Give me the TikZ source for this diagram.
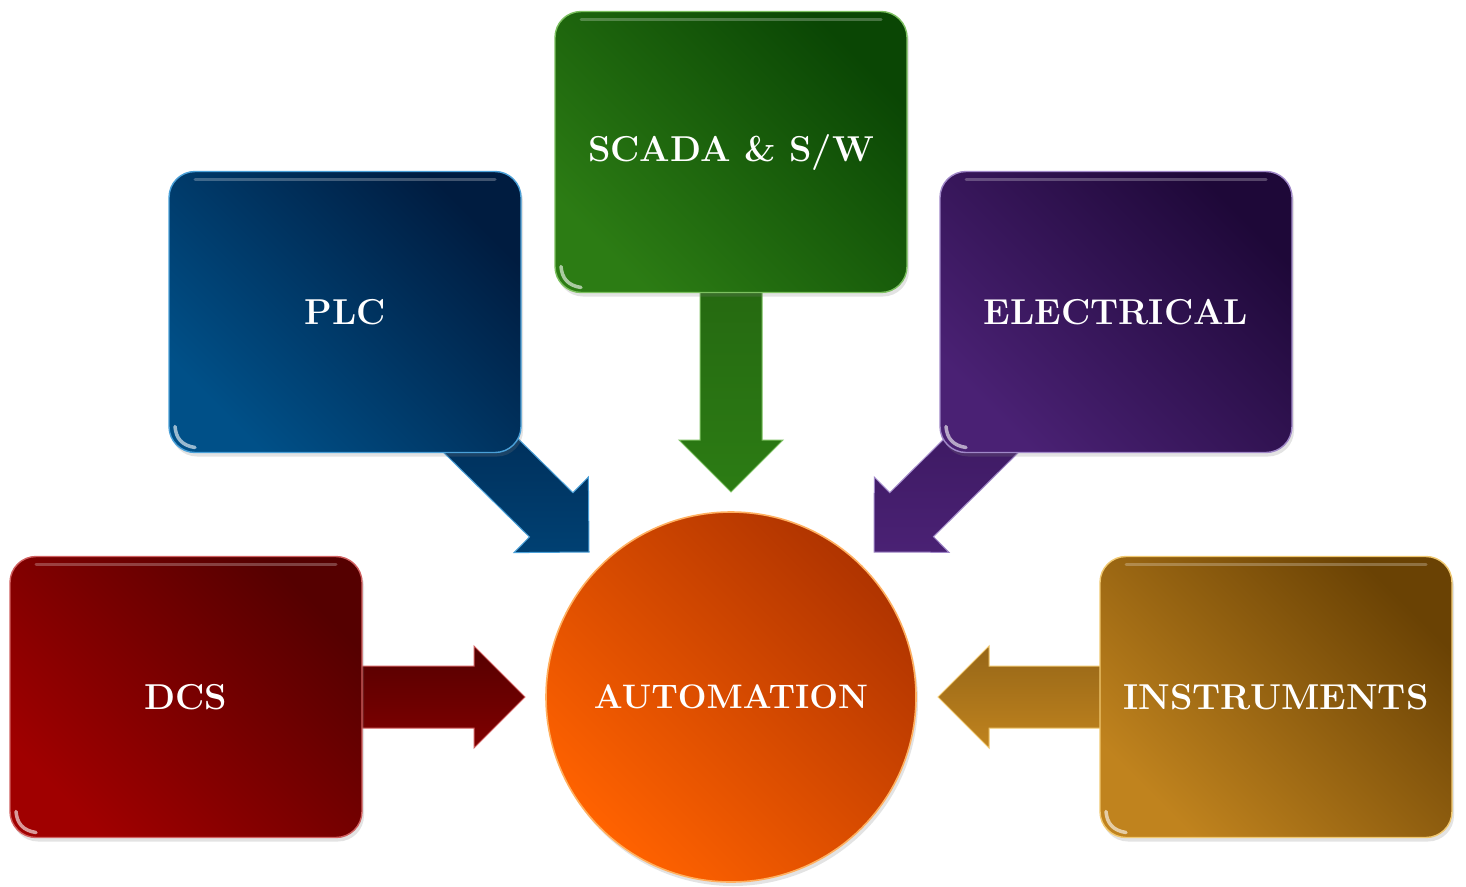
\documentclass[tikz,border=0pt]{standalone}
\usetikzlibrary{calc,shadows,backgrounds}
\definecolor{dcsL}{HTML}{A00000}\definecolor{dcsD}{HTML}{550000}\definecolor{dcsE}{HTML}{D06060}
\definecolor{plcL}{HTML}{005088}\definecolor{plcD}{HTML}{001C40}\definecolor{plcE}{HTML}{4AA0D8}
\definecolor{scaL}{HTML}{2C7C14}\definecolor{scaD}{HTML}{0A4604}\definecolor{scaE}{HTML}{7CC060}
\definecolor{eleL}{HTML}{4A2174}\definecolor{eleD}{HTML}{1E0838}\definecolor{eleE}{HTML}{A088C8}
\definecolor{insL}{HTML}{C0831E}\definecolor{insD}{HTML}{6A4204}\definecolor{insE}{HTML}{F0C870}
\definecolor{autL}{HTML}{FF6200}\definecolor{autD}{HTML}{B03400}\definecolor{autE}{HTML}{FFB060}
\tikzset{
  x=1pt, y=-1pt,
  gloss/.style={path picture={
    \draw[white, opacity=.25, line width=3pt, line cap=round]
      ($(path picture bounding box.north west)+(26,8)$) -- ($(path picture bounding box.north east)+(-26,8)$);
    \draw[white, opacity=.6, line width=3.5pt, line cap=round]
      ($(path picture bounding box.south west)+(6,-26)$) .. controls ($(path picture bounding box.south west)+(7,-14)$)
      and ($(path picture bounding box.south west)+(13,-7)$) .. ($(path picture bounding box.south west)+(26,-5)$);
  }},
  box/.style={rounded corners=26pt, minimum width=352pt, minimum height=281pt,
    inner sep=0pt, line width=1.4pt, text=white,
    font=\fontsize{36}{42}\selectfont\bfseries, gloss,
    drop shadow={shadow xshift=2pt, shadow yshift=-4pt, opacity=0.22}},
  skin/.style n args={3}{top color=#2, bottom color=#1, shading angle=-45, draw=#3},
  arrowskin/.style n args={3}{top color=#2, bottom color=#1, draw=#3, line width=1pt},
}
\newcommand\blockarrow[4]{%
  \pgfpointdiff{\pgfpointanchor{#1}{center}}{\pgfpointanchor{#2}{center}}%
  \pgfgetlastxy\bdx\bdy
  \pgfmathsetmacro\bang{atan2(\bdy,\bdx)}%
  \pgfmathsetmacro\blen{veclen(\bdx,\bdy)}%
  \begin{scope}[shift={(#1.center)}, rotate=\bang]
    \path[#3] (0pt,-31pt) -- (\blen pt-#4 pt,-31pt) -- (\blen pt-#4 pt,-#4 pt)
      -- (\blen pt,0pt) -- (\blen pt-#4 pt,#4 pt) -- (\blen pt-#4 pt,31pt)
      -- (0pt,31pt) -- cycle;
  \end{scope}}
\begin{document}
\begin{tikzpicture}
\useasboundingbox (0,0) rectangle (1466,886);

\node[box, skin={dcsL}{dcsD}{dcsE}] (dcs) at (186,697) {DCS};
\node[box, skin={plcL}{plcD}{plcE}] (plc) at (345,312) {PLC};
\node[box, skin={scaL}{scaD}{scaE}] (scada) at (731,152) {SCADA \& S/W};
\node[box, skin={eleL}{eleD}{eleE}] (elec) at (1116,312) {ELECTRICAL};
\node[box, skin={insL}{insD}{insE}] (inst) at (1276,697) {INSTRUMENTS};
\node[circle, minimum size=370pt, inner sep=0pt, line width=1.6pt, text=white,
  font=\fontsize{34}{40}\selectfont\bfseries,
  top color=autD, bottom color=autL, shading angle=-45, draw=autE,
  drop shadow={shadow xshift=2pt, shadow yshift=-4pt, opacity=0.22}]
  (auto) at (731,697) {AUTOMATION};

\coordinate (tdcs) at (525,697);
\coordinate (tplc) at (589,552);
\coordinate (tsca) at (731,492);
\coordinate (tele) at (874,552);
\coordinate (tins) at (938,697);

\begin{scope}[on background layer]
  \fill[white] (0,0) rectangle (1466,886);
  \blockarrow{dcs}{tdcs}{arrowskin={dcsL!80!black}{dcsD}{dcsE}}{51}
  \blockarrow{plc}{tplc}{arrowskin={plcL!70!plcD}{plcD}{plcE}}{53}
  \blockarrow{scada}{tsca}{arrowskin={scaL}{scaL!75!black}{scaE}}{52}
  \blockarrow{elec}{tele}{arrowskin={eleL}{eleD!60!eleL}{eleE}}{53}
  \blockarrow{inst}{tins}{arrowskin={insL}{insL!78!black}{insE}}{51}
\end{scope}
\end{tikzpicture}
\end{document}
